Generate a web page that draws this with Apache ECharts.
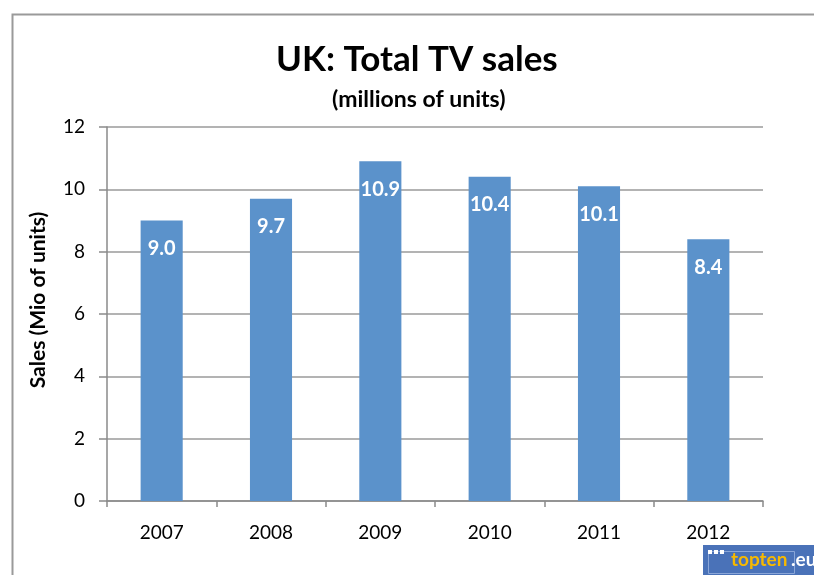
<!DOCTYPE html>
<html><head><meta charset="utf-8">
<script src="https://cdn.jsdelivr.net/npm/echarts@6/dist/echarts.min.js"></script>
<style>html,body{margin:0;padding:0;background:#fff}#c{width:814px;height:575px}</style>
</head><body><div id="c"></div>
<script>
const categories = ['2007','2008','2009','2010','2011','2012'];
const sales = [9.0, 9.7, 10.9, 10.4, 10.1, 8.4];
const yTicks = [0, 2, 4, 6, 8, 10, 12];

const FONT = 'Lato';
const chart = echarts.init(document.getElementById('c'));
chart.setOption({
  backgroundColor: '#fff',
  animation: false,
  title: [
    {text: 'UK: Total TV sales', left: 271, top: 37,
     textStyle: {fontFamily: FONT, fontWeight: 'bold', fontSize: 35, color: '#000'}},
    {text: '(millions of units)', left: 327, top: 83,
     textStyle: {fontFamily: FONT, fontWeight: 'bold', fontSize: 23, color: '#000'}}
  ],
  grid: {left: 107, right: 51, top: 127, bottom: 74},
  xAxis: {
    type: 'category', data: categories,
    axisLine: {lineStyle: {color: '#8a8a8a', width: 1.5}},
    axisTick: {show: true, length: 6, lineStyle: {color: '#8a8a8a', width: 1.5}},
    axisLabel: {fontFamily: FONT, fontSize: 19, color: '#000', margin: 22}
  },
  yAxis: {
    type: 'value', min: yTicks[0], max: yTicks[yTicks.length-1], interval: 2,
    name: 'Sales (Mio of units)', nameLocation: 'middle', nameGap: 58, nameRotate: 90,
    nameTextStyle: {fontFamily: FONT, fontWeight: 'bold', fontSize: 21, color: '#000', padding: [0,0,0,28]},
    axisLine: {show: true, lineStyle: {color: '#8a8a8a', width: 1.5}},
    axisTick: {show: true, length: 8, lineStyle: {color: '#8a8a8a', width: 1.5}},
    splitLine: {lineStyle: {color: '#9a9a9a', width: 1.5}},
    axisLabel: {fontFamily: FONT, fontSize: 19, color: '#000', margin: 22}
  },
  series: [{
    type: 'bar', data: sales, barWidth: '38.5%',
    itemStyle: {color: '#5b92cb'},
    label: {show: true, position: 'insideTop', distance: 18,
      formatter: p => p.value.toFixed(1),
      fontFamily: FONT, fontWeight: 'bold', fontSize: 20, color: '#fff'}
  }],
  graphic: [
    {type: 'rect', left: 10, top: 12, shape: {width: 900, height: 700},
     style: {fill: 'none', stroke: '#9a9a9a', lineWidth: 2}, silent: true, z: -1},
    {type: 'rect', left: 703, top: 545, shape: {width: 111, height: 30},
     style: {fill: '#4a72b8'}},
    {type: 'rect', left: 706, top: 549, shape: {width: 86, height: 22},
     style: {fill: 'none', stroke: '#8aa6d8', lineWidth: 1}},
    {type: 'rect', left: 708, top: 550, shape: {width: 4, height: 4}, style: {fill: '#fff'}},
    {type: 'rect', left: 714, top: 550, shape: {width: 4, height: 4}, style: {fill: '#fff'}},
    {type: 'rect', left: 720, top: 550, shape: {width: 4, height: 4}, style: {fill: '#fff'}},
    {type: 'text', left: 731, top: 550, style: {text: 'topten', fill: '#f7b900',
      font: 'bold 19px ' + FONT}},
    {type: 'text', left: 791, top: 550, style: {text: '.eu', fill: '#fff',
      font: 'bold 19px ' + FONT}}
  ]
});
</script></body></html>
